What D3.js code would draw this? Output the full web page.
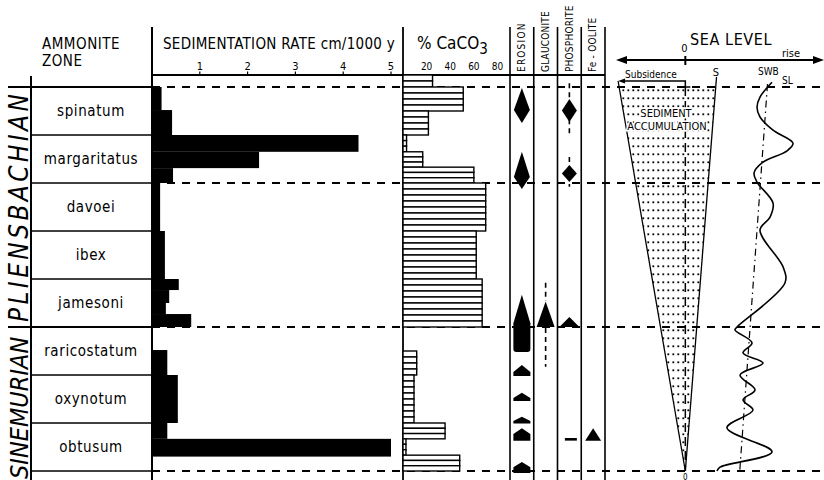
<!DOCTYPE html>
<html><head><meta charset="utf-8">
<script src="https://cdn.jsdelivr.net/npm/d3@7"></script>
<style>
body{margin:0;background:#fff;}
svg{display:block;font-family:"DejaVu Sans Condensed","DejaVu Sans",sans-serif;font-stretch:condensed;}
</style></head><body>
<svg id="c" width="824" height="480"></svg>
<script>
// ---------------- DATA ----------------
const zones = ["spinatum","margaritatus","davoei","ibex","jamesoni","raricostatum","oxynotum","obtusum"];
const stageNames = ["PLIENSBACHIAN","SINEMURIAN"];
const stageTop = [0,5];
const stageBottom = [5,8];

const sedTicks = [1,2,3,4,5];
const sedTop    = [0,0.48,1,1.35,1.69,2,3,4,4.23,4.5,4.73,5.48,6,7,7.33];
const sedBottom = [0.48,1,1.35,1.69,2,3,4,4.23,4.5,4.73,5,6,7,7.33,7.7];
const sedRate   = [0.2,0.42,4.32,2.24,0.44,0.17,0.27,0.56,0.36,0.29,0.82,0.32,0.54,0.32,5.0];

const caTicks = [20,40,60,80];
const caTop    = [-0.25,0,0.5,1,1.35,1.67,2,3,4,5.5,6,7,7.33,7.67];
const caBottom = [0,0.5,1,1.35,1.67,2,3,4,5,6,7,7.33,7.67,8];
const caPct    = [25,51,21.5,3,16.7,60,70,62,67,11.6,9.3,35.6,2.5,48];

const mineralCols = ["EROSION","GLAUCONITE","PHOSPHORITE","Fe - OOLITE"];
const erosionShape  = ["kite","kite","wedge","mound","mound","mound","mound","mound"];
const erosionTop    = [0.02,1.35,4.33,5.79,6.37,6.87,7.11,7.81];
const erosionMid    = [0.48,1.875,4.92,5.94,6.48,6.96,7.23,7.92];
const erosionBottom = [0.75,2.125,5.52,6.02,6.54,7.01,7.37,8.04];

const glauTop = [4.47], glauBottom = [5.0];
const glauDashTop = [4.08,5.02], glauDashBottom = [4.46,5.83];

const phosShape  = ["diamond","diamond","flat","bar"];
const phosTop    = [0.25,1.625,4.79,7.34];
const phosBottom = [0.73,1.98,5.0,7.34];
const phosDashTop = [-0.08,1.46], phosDashBottom = [1.0,2.08];

const feTop = [7.11], feBottom = [7.37];

// sea level (relative units, 0 = reference)
const slU     = [12.5,10.77,10.34,10.77,12.65,15.53,14.67,11.06,9.91,10.34,12.65,12.22,10.77,14.1,14.38,7.46,7.16,9.62,8.32,11.2,7.89,10.05,8.32,9.76,6.0,12.5,5.0,4.57];
const slDepth = [-0.1,0.21,0.42,0.625,0.9,1.17,1.33,1.58,1.79,1.98,2.42,2.71,2.98,3.75,4.08,5.0,5.06,5.33,5.54,5.75,6.0,6.31,6.52,6.73,7.1,7.6,7.92,8.0];
const swbU = [11.85,7.85], swbDepth = [-0.06,8];
const subsU = [-9.7,0], subsDepth = [-0.125,8];
const sedAccU = [4.5,0], sedAccDepth = [-0.21,8];
const dashedDepths = [0,2,5,8];

// ---------------- CHART ----------------
const svg = d3.select("#c");
const y = d3.scaleLinear().domain([0,8]).range([87,471]);
const sedX = d3.scaleLinear().domain([0,5]).range([152,391]);
const caX = d3.scaleLinear().domain([0,80]).range([403,497.5]);
const colX = d3.scaleBand().domain(mineralCols).range([510,605]);
const seaX = d3.scaleLinear().domain([-10,20]).range([616,824]);
const K = "#000";

const defs = svg.append("defs");
const pat = defs.append("pattern").attr("id","dots").attr("patternUnits","userSpaceOnUse")
  .attr("width",5).attr("height",8).attr("x",1).attr("y",y(0)+1);
pat.append("rect").attr("x",1.4).attr("y",1.4).attr("width",1.8).attr("height",1.8).attr("fill",K);
defs.append("clipPath").attr("id","belowTop").append("rect")
  .attr("x",600).attr("y",y(0)+1).attr("width",224).attr("height",400);

// dashed horizons
svg.append("g").selectAll("line").data(dashedDepths).join("line")
  .attr("x1",sedX(0)).attr("x2",824).attr("y1",d=>y(d)).attr("y2",d=>y(d))
  .attr("stroke",K).attr("stroke-width",1.8).attr("stroke-dasharray","8,7");

// zone column
const zg = svg.append("g");
zg.selectAll("line.zb").data(d3.range(zones.length+1)).join("line")
  .attr("x1",d=>(d===0||d===5)?8:31).attr("x2",sedX(0))
  .attr("y1",d=>y(d)).attr("y2",d=>y(d))
  .attr("stroke",K).attr("stroke-width",d=>(d===0||d===5)?2.2:1.6);
zg.selectAll("text").data(zones).join("text")
  .attr("x",91).attr("y",(d,i)=>y(i+0.5)+5).attr("text-anchor","middle")
  .attr("font-size",15).attr("letter-spacing",0.6).text(d=>d);
svg.append("text").attr("x",42).attr("y",49).attr("font-size",15).attr("letter-spacing",0.5).text("AMMONITE");
svg.append("text").attr("x",42).attr("y",65.5).attr("font-size",15).attr("letter-spacing",0.5).text("ZONE");

// stage labels
svg.append("text").attr("transform",`translate(28,${y(stageBottom[0])-5}) rotate(-90)`)
  .attr("font-size",26).attr("font-style","italic").attr("textLength",y(stageBottom[0])-y(stageTop[0])-12)
  .attr("lengthAdjust","spacing").text(stageNames[0]);
svg.append("text").attr("transform",`translate(28,479) rotate(-90)`)
  .attr("font-size",25).attr("font-style","italic").text(stageNames[1]);

// frame lines
const fl = svg.append("g").attr("stroke",K);
fl.append("line").attr("x1",31).attr("x2",31).attr("y1",76).attr("y2",480).attr("stroke-width",2);
fl.append("line").attr("x1",sedX(0)).attr("x2",sedX(0)).attr("y1",27).attr("y2",480).attr("stroke-width",2);
fl.append("line").attr("x1",caX(0)).attr("x2",caX(0)).attr("y1",27).attr("y2",480).attr("stroke-width",1.8);
fl.selectAll("line.mc").data(mineralCols.concat(["end"])).join("line")
  .attr("x1",(d,i)=>i<4?colX(d):colX.range()[1]).attr("x2",(d,i)=>i<4?colX(d):colX.range()[1])
  .attr("y1",27).attr("y2",480).attr("stroke-width",1.6);
fl.append("line").attr("x1",sedX(0)).attr("x2",colX.range()[1]).attr("y1",75).attr("y2",75).attr("stroke-width",2);

// sedimentation header & axis
svg.append("text").attr("x",163).attr("y",48.5).attr("font-size",15).attr("letter-spacing",0.3).text("SEDIMENTATION RATE cm/1000 y");
const sa = svg.append("g");
sa.selectAll("line").data(sedTicks).join("line").attr("x1",d=>sedX(d)).attr("x2",d=>sedX(d))
  .attr("y1",71.5).attr("y2",75).attr("stroke",K).attr("stroke-width",1.2);
sa.selectAll("text").data(sedTicks).join("text").attr("x",d=>sedX(d)).attr("y",70)
  .attr("text-anchor","middle").attr("font-size",11).text(d=>d);

// sedimentation bars
svg.append("g").selectAll("rect").data(d3.range(sedRate.length)).join("rect")
  .attr("x",sedX(0)).attr("y",i=>y(sedTop[i]))
  .attr("width",i=>sedX(sedRate[i])-sedX(0)).attr("height",i=>y(sedBottom[i])-y(sedTop[i]))
  .attr("fill",K);

// CaCO3 header
const ct = svg.append("text").attr("x",417).attr("y",49).attr("font-size",17);
ct.append("tspan").text("% CaCO");
ct.append("tspan").attr("dy",5).attr("font-size",15).text("3");
svg.append("g").selectAll("text").data(caTicks).join("text").attr("x",d=>caX(d)).attr("y",70)
  .attr("text-anchor","middle").attr("font-size",10).text(d=>d);

// CaCO3 striped bars
const rows = [];
caPct.forEach((v,i)=>{
  const n = Math.max(1, Math.round((caBottom[i]-caTop[i])*8));
  const h = (y(caBottom[i])-y(caTop[i]))/n;
  d3.range(n).forEach(k=>rows.push({v, y0:y(caTop[i])+k*h, h}));
});
svg.append("g").selectAll("rect").data(rows).join("rect")
  .attr("x",caX(0)).attr("y",d=>d.y0).attr("width",d=>caX(d.v)-caX(0)).attr("height",d=>d.h)
  .attr("fill","#fff").attr("stroke",K).attr("stroke-width",1.4);

// mineral labels
const labBase = [3.2,3.5,3.2,3.2];
svg.append("g").selectAll("text").data(mineralCols).join("text")
  .attr("transform",(d,i)=>`translate(${colX(d)+colX.bandwidth()/2+labBase[i]},72) rotate(-90)`)
  .attr("font-size",10).attr("letter-spacing",(d,i)=>i===0?1.2:0.2).text(d=>d);

// symbols
const cx = c => colX(c)+colX.bandwidth()/2;
const sym = svg.append("g").attr("fill",K);
function kite(x,t,m,b,hw){return `M${x},${t}L${x+hw},${m}L${x},${b}L${x-hw},${m}Z`;}
function mound(x,t,m,b,hw){return `M${x},${t}L${x+hw},${m}L${x+hw},${b}L${x-hw},${b}L${x-hw},${m}Z`;}
function wedge(x,t,m,b,hw){
  return `M${x},${t}L${x+hw},${m}L${x+hw},${b-3}Q${x+hw},${b} ${x+hw-3},${b}L${x-hw+3},${b}Q${x-hw},${b} ${x-hw},${b-3}L${x-hw},${m}Z`;
}
const ex = cx(mineralCols[0]);
erosionShape.forEach((s,i)=>{
  const t=y(erosionTop[i]), m=y(erosionMid[i]), b=y(erosionBottom[i]);
  const p = s==="kite"?kite(ex,t,m,b,8):s==="wedge"?wedge(ex,t,m,b,8.5):mound(ex,t,m,b,8.5);
  sym.append("path").attr("d",p);
});
// glauconite
const gx = cx(mineralCols[1]);
glauDashTop.forEach((t,i)=>svg.append("line").attr("x1",gx).attr("x2",gx).attr("y1",y(t)).attr("y2",y(glauDashBottom[i]))
  .attr("stroke",K).attr("stroke-width",1.6).attr("stroke-dasharray","5,4"));
glauTop.forEach((t,i)=>sym.append("path").attr("d",`M${gx},${y(t)}L${gx+9},${y(glauBottom[i])}L${gx-9},${y(glauBottom[i])}Z`));
// phosphorite
const px = cx(mineralCols[2]);
phosDashTop.forEach((t,i)=>svg.append("line").attr("x1",px).attr("x2",px).attr("y1",y(t)).attr("y2",y(phosDashBottom[i]))
  .attr("stroke",K).attr("stroke-width",1.6).attr("stroke-dasharray","5,4"));
phosShape.forEach((s,i)=>{
  const t=y(phosTop[i]), b=y(phosBottom[i]);
  if(s==="diamond") sym.append("path").attr("d",kite(px,t,(t+b)/2,b,7.5));
  else if(s==="flat") sym.append("path").attr("d",`M${px},${t}L${px+10},${b}L${px-10},${b}Z`);
  else sym.append("rect").attr("x",px-4.5).attr("y",t-1.3).attr("width",12).attr("height",2.6);
});
// Fe-oolite
const fx = cx(mineralCols[3]);
feTop.forEach((t,i)=>sym.append("path").attr("d",`M${fx},${y(t)}L${fx+8},${y(feBottom[i])}L${fx-8},${y(feBottom[i])}Z`));

// ---------------- SEA LEVEL ----------------
const sl = svg.append("g");
sl.append("line").attr("x1",seaX(-10)+4).attr("x2",seaX(20)-4).attr("y1",60).attr("y2",60).attr("stroke",K).attr("stroke-width",2);
sl.append("path").attr("d",`M${seaX(-10)},60L${seaX(-10)+11},56L${seaX(-10)+11},64Z`).attr("fill",K);
sl.append("path").attr("d",`M${seaX(20)},60L${seaX(20)-11},56L${seaX(20)-11},64Z`).attr("fill",K);
sl.append("line").attr("x1",seaX(0)).attr("x2",seaX(0)).attr("y1",56).attr("y2",65).attr("stroke",K).attr("stroke-width",2);
sl.append("text").attr("x",690).attr("y",45).attr("font-size",16).attr("letter-spacing",0.6).text("SEA LEVEL");
sl.append("text").attr("x",seaX(0)-1).attr("y",52).attr("text-anchor","middle").attr("font-size",11).text("0");
sl.append("text").attr("x",782).attr("y",56.5).attr("font-size",11).text("rise");

// accumulation wedge
const tri = [[subsU[0],subsDepth[0]],[sedAccU[0],sedAccDepth[0]],[0,8]];
sl.append("path").attr("clip-path","url(#belowTop)")
  .attr("d","M"+tri.map(p=>`${seaX(p[0])},${y(p[1])}`).join("L")+"Z").attr("fill","url(#dots)");
sl.append("line").attr("x1",seaX(subsU[0])).attr("x2",seaX(subsU[1])).attr("y1",y(subsDepth[0])).attr("y2",y(subsDepth[1]))
  .attr("stroke",K).attr("stroke-width",1.3);
sl.append("line").attr("x1",seaX(sedAccU[0])).attr("x2",seaX(sedAccU[1])).attr("y1",y(sedAccDepth[0])).attr("y2",y(sedAccDepth[1]))
  .attr("stroke",K).attr("stroke-width",1.3);
sl.append("line").attr("x1",seaX(0)).attr("x2",seaX(0)).attr("y1",y(0)).attr("y2",y(8))
  .attr("stroke",K).attr("stroke-width",1.5).attr("stroke-dasharray","9,5");
// subsidence arrow
const sy = y(subsDepth[0]);
sl.append("path").attr("d",`M${seaX(subsU[0])+3},${sy}L${seaX(0)},${sy}L${seaX(0)},${y(0)}L${seaX(0)+5},${y(0)}`)
  .attr("fill","none").attr("stroke",K).attr("stroke-width",1.5);
sl.append("path").attr("d",`M${seaX(subsU[0])},${sy}L${seaX(subsU[0])+7},${sy-2.5}L${seaX(subsU[0])+7},${sy+2.5}Z`).attr("fill",K);
sl.append("text").attr("x",625).attr("y",78).attr("font-size",10).text("Subsidence");
sl.append("text").attr("x",716).attr("y",76).attr("text-anchor","middle").attr("font-size",11).text("S");
sl.append("text").attr("x",758).attr("y",75).attr("font-size",10).text("SWB");
sl.append("text").attr("x",782).attr("y",84).attr("font-size",10).text("SL");
sl.append("text").attr("x",seaX(0)).attr("y",479.5).attr("text-anchor","middle").attr("font-size",8).text("0");
const lab = sl.append("g").attr("font-size",11).attr("text-anchor","middle")
  .attr("stroke","#fff").attr("stroke-width",3).attr("paint-order","stroke");
lab.append("text").attr("x",666).attr("y",117).attr("fill",K).text("SEDIMENT");
lab.append("text").attr("x",667).attr("y",130).attr("fill",K).text("ACCUMULATION");

// SWB dashed line
sl.append("line").attr("x1",seaX(swbU[0])).attr("x2",seaX(swbU[1])).attr("y1",y(swbDepth[0])).attr("y2",y(swbDepth[1]))
  .attr("stroke",K).attr("stroke-width",1.2).attr("stroke-dasharray","7,4,1.5,4");
// SL curve
const slLine = d3.line().x(i=>seaX(slU[i])).y(i=>y(slDepth[i])).curve(d3.curveCatmullRom.alpha(0.5));
sl.append("path").attr("d",slLine(d3.range(slU.length))).attr("fill","none").attr("stroke",K).attr("stroke-width",1.6);
</script>
</body></html>
